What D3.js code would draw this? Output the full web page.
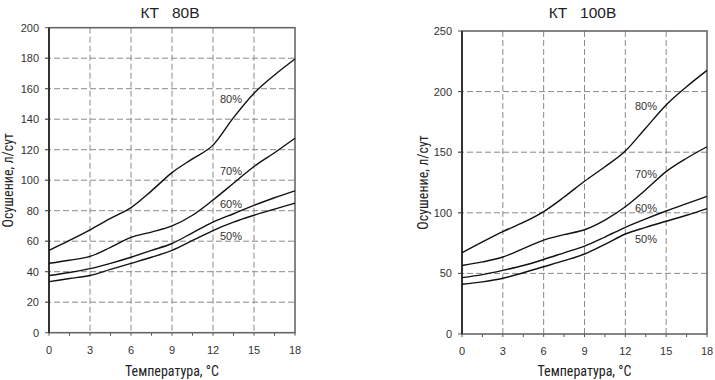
<!DOCTYPE html>
<html>
<head>
<meta charset="utf-8">
<script src="https://cdn.jsdelivr.net/npm/d3@7"></script>
<style>
  html, body { margin: 0; padding: 0; background: #fff; }
  svg { display: block; }
</style>
</head>
<body>
<svg id="chart" width="715" height="380"></svg>
<script>
// ---- Data ----
const temperatures = [0, 1.5, 3, 4.5, 6, 7.5, 9, 10.5, 12, 13.5, 15, 16.5, 18];
const xTicks = [0, 3, 6, 9, 12, 15, 18];
const xMinorTicks = [0, 1.5, 3, 4.5, 6, 7.5, 9, 10.5, 12, 13.5, 15, 16.5, 18];
const humidityLabels = ["80%", "70%", "60%", "50%"];

// KT 80B
const kt80_title = "КТ   80В";
const kt80_yTicks = [0, 20, 40, 60, 80, 100, 120, 140, 160, 180, 200];
const kt80_h80 = [54, 60.5, 67.5, 75, 82, 93, 105, 114, 123, 141, 157, 169, 179.5];
const kt80_h70 = [45.5, 47.5, 50, 56, 62.5, 66, 70, 77, 87, 98, 109, 118, 127.5];
const kt80_h60 = [37.5, 39.5, 42, 45.5, 49.5, 54, 58.5, 65.5, 72.5, 78, 83.5, 88.5, 93];
const kt80_h50 = [33.5, 35.5, 37.5, 41.5, 45.5, 49.5, 54, 60.5, 67, 72.5, 77, 81, 85];

// KT 100B
const kt100_title = "КТ   100В";
const kt100_yTicks = [0, 50, 100, 150, 200, 250];
const kt100_h80 = [67, 76, 84.5, 92, 101, 113, 126, 138, 151, 170, 189, 204, 217.5];
const kt100_h70 = [56.5, 59.5, 63.5, 70.5, 77.5, 82, 86, 94, 105, 119, 134, 145, 154.5];
const kt100_h60 = [46.5, 49, 52.5, 56.5, 61.5, 67, 72.5, 80, 88, 95, 101.5, 107.5, 113.5];
const kt100_h50 = [41, 43, 46, 50.5, 55.5, 60.5, 66, 74, 82.5, 88, 93, 98, 103.5];

const xTitle = "Температура, °С";
const yTitle = "Осушение, л/сут";

// ---- Drawing ----
const svg = d3.select("#chart");
const condensed = "'Liberation Sans Narrow', 'Roboto Condensed', 'Arial Narrow', 'Liberation Sans', Arial, sans-serif";
const regular = "'Liberation Sans', Arial, sans-serif";

function drawChart(cfg) {
  const g = svg.append("g");
  const x = d3.scaleLinear().domain([0, 18]).range([cfg.left, cfg.right]);
  const y = d3.scaleLinear().domain([0, cfg.yMax]).range([cfg.bottom, cfg.top]);

  // gridlines
  g.append("g").selectAll("line.hg")
    .data(cfg.yTicks.filter(d => d > 0 && d < cfg.yMax))
    .join("line")
    .attr("x1", cfg.left - 4).attr("x2", cfg.right)
    .attr("y1", d => y(d)).attr("y2", d => y(d))
    .attr("stroke", "#8a8a8a").attr("stroke-width", 1)
    .attr("stroke-dasharray", "6,3");
  g.append("g").selectAll("line.vg")
    .data(xTicks.filter(d => d > 0 && d < 18))
    .join("line")
    .attr("x1", d => x(d)).attr("x2", d => x(d))
    .attr("y1", cfg.top).attr("y2", cfg.bottom)
    .attr("stroke", "#8a8a8a").attr("stroke-width", 1)
    .attr("stroke-dasharray", "6,3");

  // x axis minor ticks
  g.append("g").selectAll("line.xt")
    .data(xMinorTicks)
    .join("line")
    .attr("x1", d => x(d)).attr("x2", d => x(d))
    .attr("y1", cfg.bottom).attr("y2", cfg.bottom + 3)
    .attr("stroke", "#555").attr("stroke-width", 1);
  // y axis ticks
  g.append("g").selectAll("line.yt")
    .data(cfg.yTicks)
    .join("line")
    .attr("x1", cfg.left - 4).attr("x2", cfg.left)
    .attr("y1", d => y(d)).attr("y2", d => y(d))
    .attr("stroke", "#555").attr("stroke-width", 1);

  // frame
  g.append("rect")
    .attr("x", cfg.left).attr("y", cfg.top)
    .attr("width", cfg.right - cfg.left).attr("height", cfg.bottom - cfg.top)
    .attr("fill", "none").attr("stroke", "#666").attr("stroke-width", 1.6);
  g.append("line")
    .attr("x1", cfg.left).attr("x2", cfg.left)
    .attr("y1", cfg.top).attr("y2", cfg.bottom)
    .attr("stroke", "#333").attr("stroke-width", 2);

  // tick labels
  g.append("g").selectAll("text.xl")
    .data(xTicks)
    .join("text")
    .attr("x", d => x(d)).attr("y", cfg.bottom + 21)
    .attr("text-anchor", "middle")
    .attr("font-family", regular).attr("font-size", 11).attr("fill", "#333")
    .text(d => d);
  g.append("g").selectAll("text.yl")
    .data(cfg.yTicks)
    .join("text")
    .attr("x", cfg.left - 10).attr("y", d => y(d) + 4)
    .attr("text-anchor", "end")
    .attr("font-family", regular).attr("font-size", 11).attr("fill", "#333")
    .text(d => d);

  // curves
  const line = d3.line()
    .x((d, i) => x(temperatures[i]))
    .y(d => y(d))
    .curve(d3.curveMonotoneX);
  cfg.series.forEach(s => {
    g.append("path")
      .attr("d", line(s))
      .attr("fill", "none").attr("stroke", "#111").attr("stroke-width", 1.4);
  });

  // series labels
  cfg.series.forEach((s, i) => {
    g.append("text")
      .attr("x", cfg.labelX).attr("y", cfg.labelY[i])
      .attr("font-family", regular).attr("font-size", 11).attr("fill", "#333")
      .text(humidityLabels[i]);
  });

  // title
  g.append("text")
    .attr("x", (cfg.left + cfg.right) / 2 - 2).attr("y", 18)
    .attr("text-anchor", "middle")
    .attr("font-family", regular).attr("font-size", 15.5).attr("fill", "#222")
    .attr("xml:space", "preserve").style("white-space", "pre")
    .text(cfg.title);

  // axis titles
  g.append("text")
    .attr("x", (cfg.left + cfg.right) / 2).attr("y", 376)
    .attr("text-anchor", "middle")
    .attr("font-family", condensed).attr("font-size", 14).attr("fill", "#222")
    .text(xTitle);
  g.append("text")
    .attr("transform", `translate(${cfg.yTitleX},${(cfg.top + cfg.bottom) / 2}) rotate(-90)`)
    .attr("text-anchor", "middle")
    .attr("font-family", condensed).attr("font-size", 14).attr("fill", "#222")
    .text(yTitle);
}

drawChart({
  title: kt80_title, yMax: 200, yTicks: kt80_yTicks,
  left: 49, right: 295, top: 27.7, bottom: 332.7,
  series: [kt80_h80, kt80_h70, kt80_h60, kt80_h50],
  labelX: 220, labelY: [103, 175, 208, 240],
  yTitleX: 13
});
drawChart({
  title: kt100_title, yMax: 250, yTicks: kt100_yTicks,
  left: 462, right: 707, top: 31, bottom: 334,
  series: [kt100_h80, kt100_h70, kt100_h60, kt100_h50],
  labelX: 635, labelY: [110, 178, 212, 243],
  yTitleX: 428
});
</script>
</body>
</html>
